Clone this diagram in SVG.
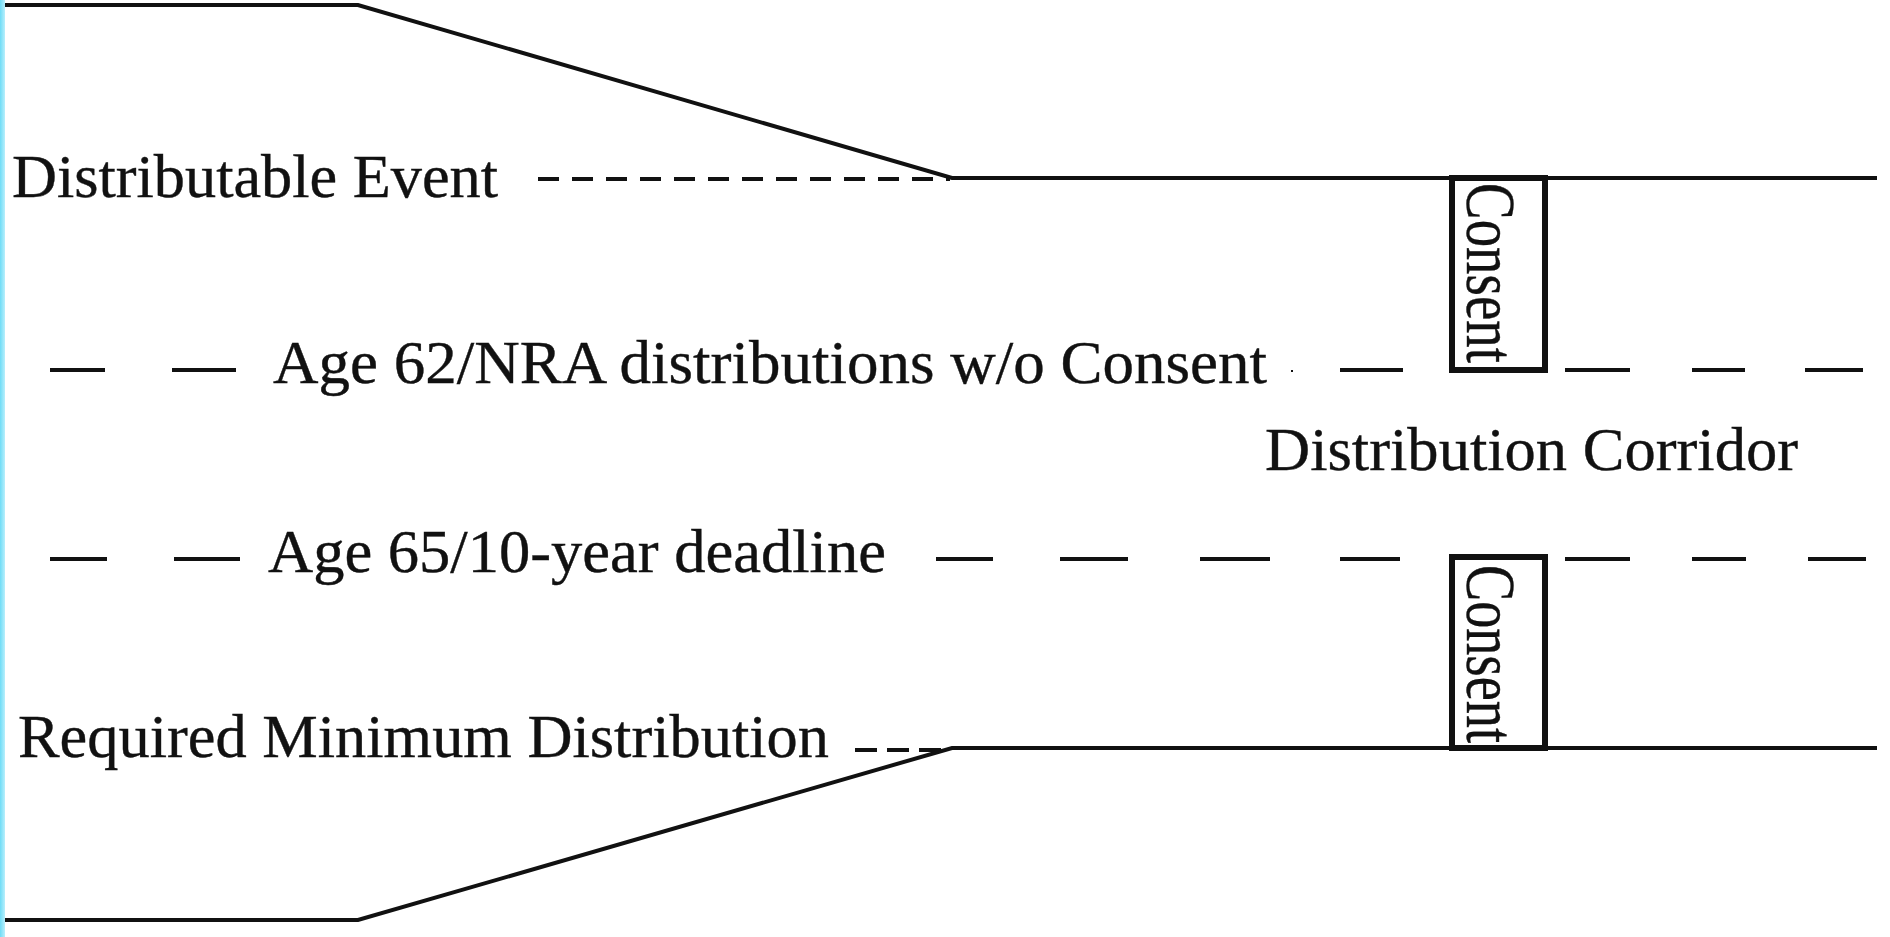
<svg xmlns="http://www.w3.org/2000/svg" width="1890" height="937" viewBox="0 0 1890 937">
  <defs>
    <linearGradient id="edge" x1="0" y1="0" x2="1" y2="0">
      <stop offset="0" stop-color="#6fdcf6"/>
      <stop offset="1" stop-color="#b8effc"/>
    </linearGradient>
  </defs>
  <style>
    .lbl { font-family: "Liberation Serif", "Times New Roman", serif; font-size: 62px; fill: #111; stroke: #111; stroke-width: 0.4; }
    .vlbl { font-family: "Liberation Serif", "Times New Roman", serif; font-size: 70px; fill: #111; stroke: #111; stroke-width: 0.4; }
    .outline { fill: none; stroke: #111; stroke-width: 4; stroke-linejoin: miter; }
    .dash { stroke: #111; stroke-width: 4; fill: none; }
    .fine { stroke: #111; stroke-width: 4; fill: none; }
    .box { fill: #fff; stroke: #111; stroke-width: 6; }
  </style>
  <rect x="0" y="0" width="1890" height="937" fill="#fff"/>
  <rect x="0" y="0" width="5" height="937" fill="url(#edge)"/>

  <g id="connectors">
    <path class="outline" d="M5,5 H358 L952,178 H1877"/>
    <path class="outline" d="M5,920 H358 L952,748 H1877"/>
    <line class="fine" x1="538" y1="179" x2="950" y2="179" stroke-dasharray="21 13"/>
    <line class="fine" x1="855" y1="750" x2="950" y2="750" stroke-dasharray="22 10"/>
    <g id="age62-line" class="dash">
      <line x1="50" y1="370" x2="105" y2="370"/>
      <line x1="172" y1="370" x2="236" y2="370"/>
      <line x1="1291" y1="371" x2="1293" y2="371" stroke-width="2"/>
      <line x1="1340" y1="370" x2="1403" y2="370"/>
      <line x1="1565" y1="370" x2="1630" y2="370"/>
      <line x1="1692" y1="370" x2="1745" y2="370"/>
      <line x1="1805" y1="370" x2="1863" y2="370"/>
    </g>
    <g id="age65-line" class="dash">
      <line x1="50" y1="559" x2="107" y2="559"/>
      <line x1="174" y1="559" x2="240" y2="559"/>
      <line x1="936" y1="559" x2="993" y2="559"/>
      <line x1="1060" y1="559" x2="1128" y2="559"/>
      <line x1="1200" y1="559" x2="1270" y2="559"/>
      <line x1="1340" y1="559" x2="1400" y2="559"/>
      <line x1="1565" y1="559" x2="1630" y2="559"/>
      <line x1="1692" y1="559" x2="1746" y2="559"/>
      <line x1="1808" y1="559" x2="1866" y2="559"/>
    </g>
  </g>

  <g id="distributable-event">
    <text class="lbl" x="12" y="197" textLength="486" lengthAdjust="spacingAndGlyphs">Distributable Event</text>
  </g>
  <g id="age62">
    <text class="lbl" x="273" y="383" textLength="994" lengthAdjust="spacingAndGlyphs">Age 62/NRA distributions w/o Consent</text>
  </g>
  <g id="distribution-corridor">
    <text class="lbl" x="1265" y="470" textLength="533" lengthAdjust="spacingAndGlyphs">Distribution Corridor</text>
  </g>
  <g id="age65">
    <text class="lbl" x="268" y="572" textLength="618" lengthAdjust="spacingAndGlyphs">Age 65/10-year deadline</text>
  </g>
  <g id="rmd">
    <text class="lbl" x="18" y="757" textLength="811" lengthAdjust="spacingAndGlyphs">Required Minimum Distribution</text>
  </g>
  <g id="consent-top">
    <rect class="box" x="1452" y="178" width="93" height="192"/>
    <text class="vlbl" transform="translate(1467,183) rotate(90)" textLength="180" lengthAdjust="spacingAndGlyphs">Consent</text>
  </g>
  <g id="consent-bottom">
    <rect class="box" x="1452" y="557" width="93" height="191"/>
    <text class="vlbl" transform="translate(1467,565) rotate(90)" textLength="178" lengthAdjust="spacingAndGlyphs">Consent</text>
  </g>
</svg>
